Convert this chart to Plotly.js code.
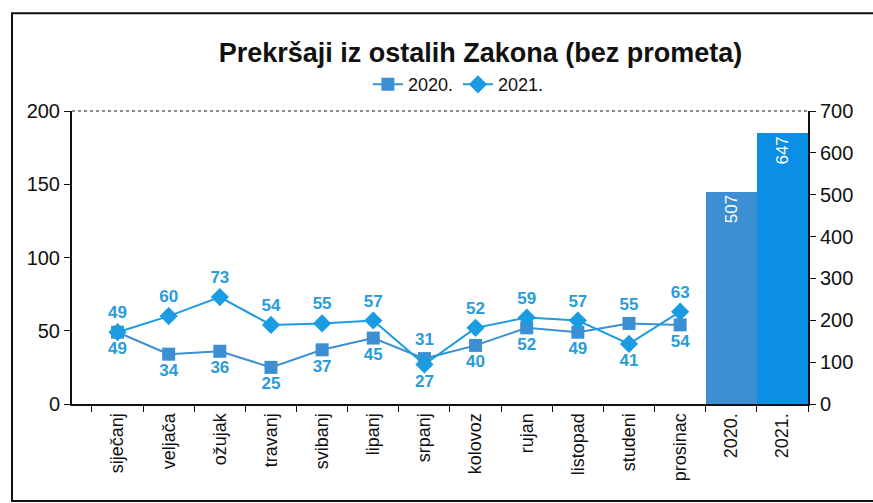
<!DOCTYPE html>
<html>
<head>
<meta charset="utf-8">
<script src="https://cdn.plot.ly/plotly-3.0.1.min.js"></script>
<style>
	body{margin:0;background:#fff;}
	#chart{width:873px;height:503px;}
</style>
</head>
<body>
<div id="chart"></div>
<script>
// data
const months = ['siječanj','veljača','ožujak','travanj','svibanj','lipanj','srpanj','kolovoz','rujan','listopad','studeni','prosinac'];
const years = ['2020.','2021.'];
const values2020 = [49,34,36,25,37,45,31,40,52,49,55,54];
const values2021 = [49,60,73,54,55,57,27,52,59,57,41,63];
const yearTotals = [507,647];

const blue2020 = '#3b8fd2';
const blue2021 = '#1a9be2';
const labelBlue = '#2a9bdb';

// put the bigger value of each month above its point, the smaller below
const positions = (mine, other, lower) => {
	let out = [];
	for (let i = 0; i < mine.length; i++){
		if (mine[i] > other[i]) out.push('top center');
		else if (mine[i] < other[i]) out.push('bottom center');
		else out.push(lower ? 'bottom center' : 'top center');
	}
	return out;
}

const lineTrace = (name, y, other, color, symbol, size, lower) => {
	return {
		x: months,
		y: y,
		name: name,
		type: 'scatter',
		mode: 'lines+markers+text',
		text: y.map(String),
		textposition: positions(y, other, lower),
		textfont: {family: 'Liberation Sans, Arial', size: 17, color: labelBlue, weight: 'bold'},
		line: {color: color, width: 2},
		marker: {color: color, symbol: symbol, size: size},
		yaxis: 'y',
		cliponaxis: false
	};
}

const data = [
	lineTrace('2020.', values2020, values2021, blue2020, 'square', 13, true),
	lineTrace('2021.', values2021, values2020, blue2021, 'diamond', 14, false),
	{
		x: years,
		y: yearTotals,
		type: 'bar',
		yaxis: 'y2',
		showlegend: false,
		marker: {color: [blue2020, '#0b8fe6'], line: {width: 0}},
		text: yearTotals.map(String),
		textposition: 'inside',
		insidetextanchor: 'end',
		textangle: -90,
		textfont: {family: 'Liberation Sans, Arial', size: 17, color: '#ffffff'}
	}
];

const tickFont = {family: 'Liberation Sans, Arial', size: 20, color: '#111'};

const layout = {
	width: 873,
	height: 503,
	margin: {l: 72, r: 65, t: 111, b: 99},
	paper_bgcolor: '#fff',
	plot_bgcolor: '#fff',
	bargap: 0,
	title: {
		text: 'Prekršaji iz ostalih Zakona (bez prometa)',
		font: {family: 'Liberation Sans, Arial', size: 27, color: '#111', weight: 'bold'},
		x: 0.555, xanchor: 'center', xref: 'paper',
		y: 0.895, yanchor: 'middle'
	},
	legend: {
		orientation: 'h',
		x: 0.525, xanchor: 'center',
		y: 1.09, yanchor: 'middle',
		font: {family: 'Liberation Sans, Arial', size: 18, color: '#111'},
		itemwidth: 30
	},
	xaxis: {
		type: 'category',
		categoryorder: 'array',
		categoryarray: months.concat(years),
		tickangle: -90,
		tickfont: {family: 'Liberation Sans, Arial', size: 18, color: '#111'},
		ticks: 'outside',
		tickson: 'boundaries',
		ticklen: 6,
		tickcolor: '#111',
		showline: true,
		linecolor: '#111',
		linewidth: 2,
		showgrid: false,
		fixedrange: true
	},
	yaxis: {
		range: [0, 200],
		dtick: 50,
		tickfont: tickFont,
		ticks: 'outside',
		ticklen: 6,
		tickcolor: '#111',
		showline: true,
		linecolor: '#111',
		linewidth: 2,
		showgrid: false,
		zeroline: false
	},
	yaxis2: {
		range: [0, 700],
		dtick: 100,
		overlaying: 'y',
		side: 'right',
		tickfont: tickFont,
		ticks: 'outside',
		ticklen: 6,
		tickcolor: '#111',
		showline: true,
		linecolor: '#111',
		linewidth: 2,
		showgrid: false,
		zeroline: false
	},
	shapes: [
		// faint dotted top edge of the plot area
		{type: 'line', xref: 'paper', yref: 'paper', x0: 0, x1: 1, y0: 1, y1: 1,
			line: {color: '#666', width: 1.5, dash: 'dot'}},
		// outer frame of the scanned chart
		{type: 'rect', xref: 'paper', yref: 'paper', x0: -0.0815, x1: 1.2, y0: -0.331, y1: 1.334,
			line: {color: '#111', width: 2}}
	]
};

Plotly.newPlot('chart', data, layout, {displayModeBar: false, staticPlot: true});
</script>
</body>
</html>
